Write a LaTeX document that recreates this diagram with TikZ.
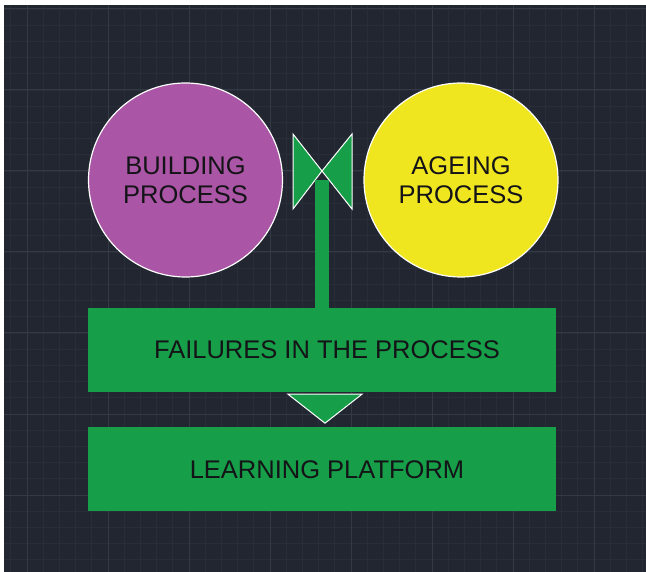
\documentclass[tikz,border=0pt]{standalone}
\usepackage{fontspec}
\setmainfont{Liberation Sans}
\usetikzlibrary{positioning}

\definecolor{canvas}{RGB}{33,38,49}
\definecolor{gridminor}{RGB}{40,45,56}
\definecolor{gridmajor}{RGB}{51,57,69}
\definecolor{procpurple}{RGB}{170,85,165}
\definecolor{ageyellow}{RGB}{240,230,32}
\definecolor{boxgreen}{RGB}{22,158,72}
\definecolor{inktext}{RGB}{20,20,24}

\begin{document}
\begin{tikzpicture}[
      x=1pt, y=-1pt,
      font=\fontsize{25.5}{29}\selectfont,
      circ/.style={circle, draw=white, line width=1.2pt, minimum size=194pt,
                   align=center, text=inktext, inner sep=0pt},
      bar/.style={fill=boxgreen, minimum width=468pt, minimum height=84pt,
                  text=inktext, inner sep=0pt},
      head/.style={fill=boxgreen, draw=white, line width=1pt, line join=miter},
      stem/.style={draw=boxgreen, line width=14pt},
      node distance=35pt
    ]
    \useasboundingbox (0,0) rectangle (646,572);
    \fill[white] (0,0) rectangle (646,572);
    \fill[canvas] (4,5) rectangle (646,572);

    % Raster
    \begin{scope}
      \clip (4,5) rectangle (646,572);
      \foreach \k in {0,...,39} {
        \draw[gridminor, line width=0.8pt] (10.8+16.2*\k,5) -- ++(0,567);
        \draw[gridminor, line width=0.8pt] (4,9+16.2*\k) -- ++(642,0);
      }
      \foreach \k in {0,...,7} {
        \draw[gridmajor, line width=1pt] (27+81*\k,5) -- ++(0,567);
        \draw[gridmajor, line width=1pt] (4,9+81*\k) -- ++(642,0);
      }
    \end{scope}

    % Prozesse
    \node[circ, fill=procpurple] (build) at (185.5,180) {BUILDING\\PROCESS};
    \node[circ, fill=ageyellow] (ageing) at (461,180) {AGEING\\PROCESS};

    % Balken
    \node[bar] (fail) at (322,350) {\hspace*{10pt}FAILURES IN THE PROCESS};
    \node[bar, below=of fail] (learn) {\hspace*{10pt}LEARNING PLATFORM};

    % Pfeil nach oben
    \coordinate (tip) at (322,171);
    \draw[head] (tip) -- ++(-29,-37) -- ++(0,75) -- cycle;
    \draw[head] (tip) -- ++(30,-37) -- ++(0,75) -- cycle;
    \draw[stem] (fail.north) -- ([yshift=-9pt]tip);

    % Pfeil nach unten
    \draw[head] ([xshift=-34pt,yshift=-2pt]fail.south)
      -- ([xshift=40pt,yshift=-2pt]fail.south)
      -- ([xshift=3pt,yshift=-31pt]fail.south) -- cycle;
  \end{tikzpicture}
\end{document}
